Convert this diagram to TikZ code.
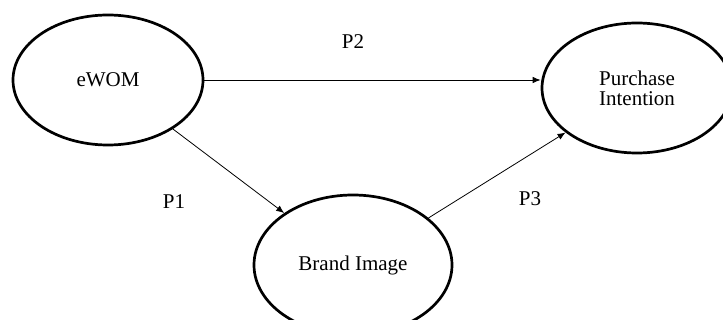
\documentclass[tikz,border=0pt]{standalone}
\usepackage{fontspec}
\setmainfont{Liberation Serif}
\usetikzlibrary{shapes.geometric}
\usetikzlibrary{arrows.meta}

\begin{document}
\begin{tikzpicture}[
    x=1pt, y=-1pt,
    every node/.style={font=\fontsize{21}{20}\selectfont},
    construct/.style={ellipse, draw, line width=2.7pt, align=center, inner sep=0pt},
    hypo/.style={-{Latex[length=8pt,width=6.5pt]}, line width=0.8pt},
    % every node/.append style={draw=red},
  ]
  \useasboundingbox (0,0) rectangle (723,320);
  \node[construct, minimum width=190pt, minimum height=130pt] (ewom) at (108,80) {eWOM};
  \node[construct, minimum width=190pt, minimum height=130pt] (purchase) at (637,88) {Purchase\\Intention};
  \node[construct, minimum width=198pt, minimum height=140pt] (brand) at (353,265) {Brand Image};
  \draw[hypo] (ewom.east) -- (ewom.east -| purchase.west);
  \draw[hypo] (ewom) -- (brand);
  \draw[hypo] (brand) -- (purchase);
  \node (ptwo) at (353,42) {P2};
  \node (pone) at (174,202) {P1};
  \node (pthree) at (530,199) {P3};
\end{tikzpicture}
\end{document}
